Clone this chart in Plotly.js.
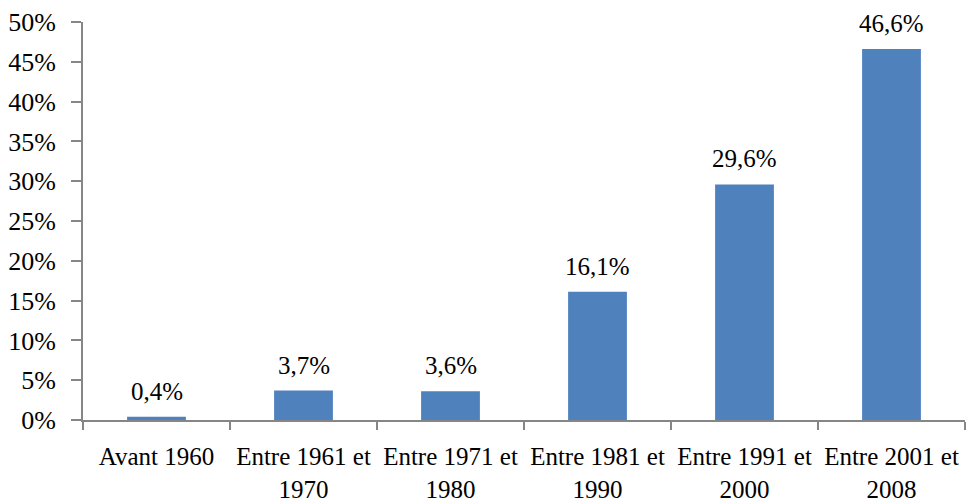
<!DOCTYPE html>
<html>
<head>
<meta charset="utf-8">
<script src="https://cdn.plot.ly/plotly-3.0.1.min.js"></script>
<style>html,body{margin:0;padding:0;background:#fff}#chart{width:969px;height:504px}</style>
</head>
<body>
<div id="chart"></div>
<script>
// Share of dwellings by construction period (%)
const categories = ["Avant 1960", "Entre 1961 et<br>1970", "Entre 1971 et<br>1980", "Entre 1981 et<br>1990", "Entre 1991 et<br>2000", "Entre 2001 et<br>2008"];
const values = [0.4, 3.7, 3.6, 16.1, 29.6, 46.6];
const yTicks = [0, 5, 10, 15, 20, 25, 30, 35, 40, 45, 50];

const fontFamily = "Liberation Serif, serif";
const axisColor = "#868686";

const fmt = v => v.toFixed(1).replace(".", ",") + "%";

const trace = {
  type: "bar",
  x: categories,
  y: values,
  marker: { color: "#4F81BD", line: { width: 0 } },
  hoverinfo: "skip"
};

const annotations = categories.map((c, i) => ({
  x: c, y: values[i], xref: "x", yref: "y",
  text: fmt(values[i]), showarrow: false,
  yanchor: "bottom", yshift: 10,
  font: { family: fontFamily, size: 25, color: "#000" }
}));

const layout = {
  width: 969, height: 504,
  margin: { l: 83, r: 4, t: 22, b: 84 },
  paper_bgcolor: "#fff", plot_bgcolor: "#fff",
  bargap: 0.6,
  showlegend: false,
  font: { family: fontFamily, size: 26, color: "#000" },
  xaxis: {
    type: "category",
    showline: true, linecolor: axisColor, linewidth: 2,
    ticks: "outside", tickson: "boundaries", ticklen: 8, tickcolor: axisColor, tickwidth: 2,
    showgrid: false, zeroline: false,
    tickangle: 0,
    ticklabelstandoff: 13,
    tickfont: { family: fontFamily, size: 25, color: "#000" }
  },
  yaxis: {
    range: [0, 50], tickvals: yTicks, ticktext: yTicks.map(v => v + "%"),
    showline: true, linecolor: axisColor, linewidth: 2,
    ticks: "outside", ticklen: 10, tickcolor: axisColor, tickwidth: 2,
    showgrid: false, zeroline: false,
    ticklabelstandoff: 10,
    tickfont: { family: fontFamily, size: 26, color: "#000" }
  },
  annotations: annotations
};

Plotly.newPlot("chart", [trace], layout, { displayModeBar: false, staticPlot: true });
</script>
</body>
</html>
